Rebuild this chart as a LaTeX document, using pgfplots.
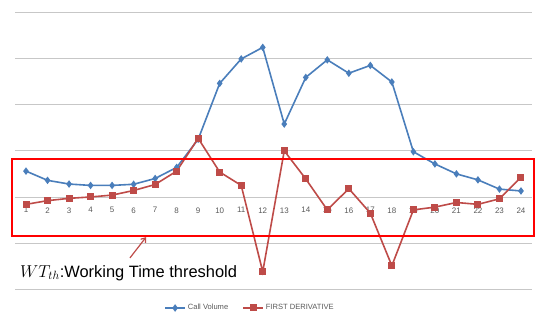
\documentclass[border=0pt]{standalone}
\usepackage{fontspec}
\setmainfont{Liberation Sans}
\usepackage{pgfplots}
\pgfplotsset{compat=1.18}
\usetikzlibrary{arrows.meta}
\definecolor{cblue}{HTML}{4A7EBB}
\definecolor{cred}{HTML}{BE4B48}
\definecolor{tickgray}{HTML}{595959}
\begin{document}
\begin{tikzpicture}
\path (-15.25bp,-24.7bp) rectangle (520.75bp,289.3bp);
\begin{axis}[
  at={(0,0)}, anchor=south west,
  scale only axis, width=516.5bp, height=277bp,
  xmin=0.5, xmax=24.5, ymin=-2, ymax=4,
  clip=false,
  axis line style={draw=none},
  major tick length=0pt,
  ytick={-2,-1,0,1,2,3,4}, yticklabels={},
  ymajorgrids, grid style={color=black!22, line width=0.9bp},
  xtick={1,2,...,24},
  /pgf/number format/assume math mode=true,
  xticklabel style={font=\fontsize{8}{9}\selectfont, text=tickgray, yshift=85.3bp},
  legend style={at={(rel axis cs:0.4545,-0.0675)}, anchor=center, draw=none, fill=none,
    legend columns=2, font=\fontsize{7.6}{8}\selectfont, text=tickgray,
    /tikz/every even column/.append style={column sep=12bp}},
  legend image code/.code={\draw[mark repeat=2,mark phase=2,#1] plot coordinates {(0bp,0bp) (10bp,0bp) (20bp,0bp)};},
]
\addplot[cblue, line width=1.6bp, mark=diamond*, mark size=2.5bp] coordinates {
(1,0.56) (2,0.36) (3,0.28) (4,0.25) (5,0.25) (6,0.275) (7,0.40) (8,0.64)
(9,1.25) (10,2.46) (11,2.99) (12,3.24) (13,1.58) (14,2.59) (15,2.97) (16,2.68)
(17,2.85) (18,2.49) (19,0.98) (20,0.715) (21,0.50) (22,0.37) (23,0.17) (24,0.13)};
\addlegendentry{Call Volume}
\addplot[cred, line width=1.6bp, mark=square*, mark size=2.7bp] coordinates {
(1,-0.16) (2,-0.08) (3,-0.03) (4,0.0) (5,0.04) (6,0.14) (7,0.27) (8,0.56)
(9,1.27) (10,0.54) (11,0.25) (12,-1.62) (13,1.0) (14,0.39) (15,-0.28) (16,0.18)
(17,-0.35) (18,-1.49) (19,-0.28) (20,-0.22) (21,-0.12) (22,-0.16) (23,-0.04) (24,0.43)};
\addlegendentry{FIRST DERIVATIVE}
\draw[red, line width=1.6bp] (axis cs:0.36,0.82) rectangle (axis cs:24.6,-0.845);
\draw[cred, line width=1.2bp, -{Straight Barb[length=4bp,width=6bp]}] (axis cs:5.83,-1.32) -- (axis cs:6.58,-0.87);
\node[anchor=base west, inner sep=0pt, font=\fontsize{16.5}{18}\selectfont] at (axis cs:0.72,-1.74) {$WT_{th}$:Working Time threshold};
\end{axis}
\end{tikzpicture}
\end{document}
